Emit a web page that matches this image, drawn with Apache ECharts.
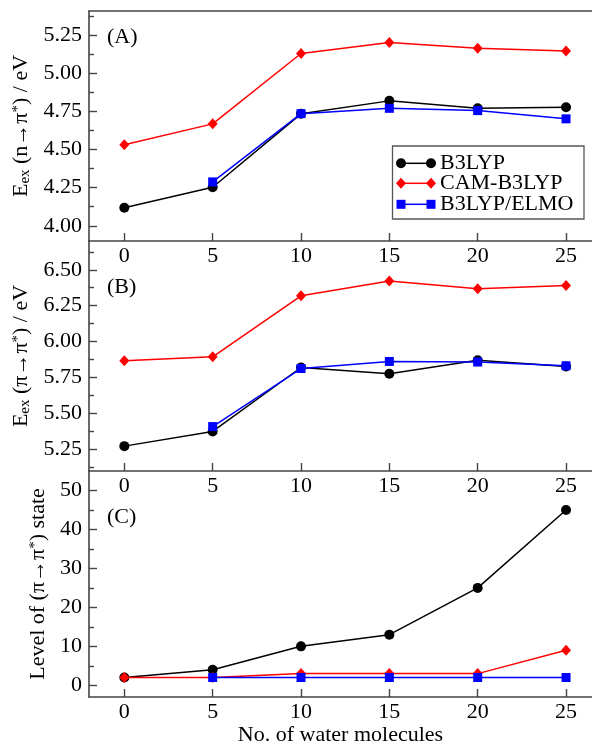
<!DOCTYPE html>
<html><head><meta charset="utf-8">
<script src="https://cdn.jsdelivr.net/npm/echarts@6/dist/echarts.min.js"></script>
<style>html,body{margin:0;padding:0;background:#fff}#c{width:592px;height:747px}</style>
</head><body><div id="c"></div>
<script>
// ---- data ----
const xValues = [0, 5, 10, 15, 20, 25];
const seriesNames = ['B3LYP', 'CAM-B3LYP', 'B3LYP/ELMO'];
// Panel A: Eex (n->pi*) / eV
const b3lypA = [4.118, 4.253, 4.735, 4.820, 4.771, 4.778];
const camA   = [4.532, 4.669, 5.131, 5.203, 5.166, 5.148];
const elmoA  = [null, 4.288, 4.736, 4.771, 4.756, 4.702];
// Panel B: Eex (pi->pi*) / eV
const b3lypB = [5.273, 5.375, 5.820, 5.777, 5.871, 5.827];
const camB   = [5.867, 5.894, 6.319, 6.421, 6.368, 6.391];
const elmoB  = [null, 5.409, 5.813, 5.862, 5.858, 5.832];
// Panel C: level of (pi->pi*) state
const b3lypC = [2, 4, 10, 13, 25, 45];
const camC   = [2, 2, 3, 3, 3, 9];
const elmoC  = [null, 2, 2, 2, 2, 2];
// tick labels
const xTicks = [0, 5, 10, 15, 20, 25];
const yTicksA = [4.00, 4.25, 4.50, 4.75, 5.00, 5.25];
const yMinorA = [4.125, 4.375, 4.625, 4.875, 5.125, 5.375];
const yTicksB = [5.25, 5.50, 5.75, 6.00, 6.25, 6.50];
const yMinorB = [5.125, 5.375, 5.625, 5.875, 6.125, 6.375, 6.625];
const yTicksC = [0, 10, 20, 30, 40, 50];
const yMinorC = [5, 15, 25, 35, 45];

// ---- styling ----
const FONT = '"Liberation Serif", "Times New Roman", serif';
const AX = '#444';
const colors = ['#000000', '#ff0000', '#0000ff'];
const symbols = ['circle', 'diamond', 'rect'];
const symSizes = [10, [10, 11], 9];

const pair = arr => xValues.map((x, i) => [x, arr[i]]).filter(p => p[1] !== null);

const grids = [
  {left: 89, right: 0, top: 11, height: 230},
  {left: 89, right: 0, top: 241, height: 230},
  {left: 89, right: 0, top: 471, height: 230}
];

function xAxisFor(i) {
  return {
    type: 'value', gridIndex: i, min: -2, max: 26.47, position: 'bottom',
    axisLine: {show: true, onZero: false, lineStyle: {color: AX, width: 1.6}},
    axisTick: {show: true, inside: true, length: 8, customValues: xTicks, lineStyle: {color: AX, width: 1.4}},
    axisLabel: {show: true, customValues: xTicks, margin: 4, fontSize: 22, fontFamily: FONT, color: '#000'},
    splitLine: {show: false},
    name: i === 2 ? 'No. of water molecules' : '',
    nameLocation: 'middle', nameGap: 27,
    nameTextStyle: {fontSize: 22, fontFamily: FONT, color: '#000'}
  };
}
const xAxes = [xAxisFor(0), xAxisFor(1), xAxisFor(2), {
  type: 'value', gridIndex: 0, min: -2, max: 26.47, position: 'top',
  axisLine: {show: true, onZero: false, lineStyle: {color: AX, width: 1.6}},
  axisTick: {show: false}, axisLabel: {show: false}, splitLine: {show: false}
}];

const rich = {
  n: {fontSize: 22, fontFamily: FONT, color: '#000'},
  s: {fontSize: 15, fontFamily: FONT, color: '#000', verticalAlign: 'bottom'},
  p: {fontSize: 15, fontFamily: FONT, color: '#000', verticalAlign: 'top'}
};

function yAxisFor(i, min, max, ticks, dec, name, gap) {
  return {
    type: 'value', gridIndex: i, min: min, max: max, position: 'left',
    axisLine: {show: true, onZero: false, lineStyle: {color: AX, width: 1.6}},
    axisTick: {show: true, inside: true, length: 8, customValues: ticks, lineStyle: {color: AX, width: 1.4}},
    axisLabel: {show: true, customValues: ticks, margin: 7, fontSize: 22, fontFamily: FONT, color: '#000',
      formatter: v => v.toFixed(dec)},
    splitLine: {show: false},
    name: name, nameLocation: 'middle', nameRotate: 90, nameGap: gap,
    nameTextStyle: {fontSize: 22, fontFamily: FONT, color: '#000', rich: rich}
  };
}
function yMinorFor(i, min, max, ticks) {
  return {
    type: 'value', gridIndex: i, min: min, max: max, position: 'left',
    axisLine: {show: false, onZero: false},
    axisTick: {show: true, inside: true, length: 5, customValues: ticks, lineStyle: {color: AX, width: 1.4}},
    axisLabel: {show: false}, splitLine: {show: false}
  };
}
const yAxes = [
  yAxisFor(0, 3.9, 5.41, yTicksA, 2, '{n|E}{s|ex}{n| (n→π}{p|*}{n|) / eV}', 49),
  yAxisFor(1, 5.1, 6.7, yTicksB, 2, '{n|E}{s|ex}{n| (π→π}{p|*}{n|) / eV}', 49),
  yAxisFor(2, -3, 55, yTicksC, 0, '{n|Level of (π→π}{p|*}{n|) state}', 30),
  yMinorFor(0, 3.9, 5.41, yMinorA),
  yMinorFor(1, 5.1, 6.7, yMinorB),
  yMinorFor(2, -3, 55, yMinorC)
];

const panelData = [[b3lypA, camA, elmoA], [b3lypB, camB, elmoB], [b3lypC, camC, elmoC]];
const series = [];
panelData.forEach((set, p) => {
  set.forEach((arr, k) => {
    series.push({
      type: 'line', name: seriesNames[k], xAxisIndex: p, yAxisIndex: p,
      data: pair(arr), symbol: symbols[k], symbolSize: symSizes[k], showAllSymbol: true,
      lineStyle: {color: colors[k], width: 1.5}, itemStyle: {color: colors[k], borderWidth: 0},
      z: 2 + k, animation: false, emphasis: {disabled: true}
    });
  });
});

// legend drawn as graphic (line with markers at both ends, xmgrace style)
const legY = [163.3, 183.3, 204.3];
const legendChildren = [{
  type: 'rect', shape: {x: 392.5, y: 146, width: 191.5, height: 73},
  style: {fill: '#fff', stroke: '#555', lineWidth: 1.3}
}];
seriesNames.forEach((nm, k) => {
  const y = legY[k];
  legendChildren.push({type: 'line', shape: {x1: 401, y1: y, x2: 431, y2: y}, style: {stroke: colors[k], lineWidth: 1.5}});
  [401, 431].forEach(cx => {
    if (k === 0) legendChildren.push({type: 'circle', shape: {cx: cx, cy: y, r: 5}, style: {fill: colors[k]}});
    else if (k === 1) legendChildren.push({type: 'polygon', shape: {points: [[cx, y - 5.5], [cx + 5, y], [cx, y + 5.5], [cx - 5, y]]}, style: {fill: colors[k]}});
    else legendChildren.push({type: 'rect', shape: {x: cx - 4.5, y: y - 4.5, width: 9, height: 9}, style: {fill: colors[k]}});
  });
  legendChildren.push({type: 'text', style: {x: 440, y: y, text: nm, fontSize: 22, fontFamily: FONT, fill: '#000', verticalAlign: 'middle', align: 'left'}});
});

const panelLabels = [['(A)', 37], ['(B)', 287.5], ['(C)', 517.5]];
const graphics = [{type: 'group', z: 100, children: legendChildren}];
panelLabels.forEach(([t, y]) => graphics.push({
  type: 'text', z: 100, style: {x: 107, y: y, text: t, fontSize: 22, fontFamily: FONT, fill: '#000', verticalAlign: 'middle', align: 'left'}
}));

const chart = echarts.init(document.getElementById('c'), null, {renderer: 'canvas'});
chart.setOption({
  animation: false,
  backgroundColor: '#fff',
  grid: grids,
  xAxis: xAxes,
  yAxis: yAxes,
  series: series,
  graphic: graphics
});
</script></body></html>
